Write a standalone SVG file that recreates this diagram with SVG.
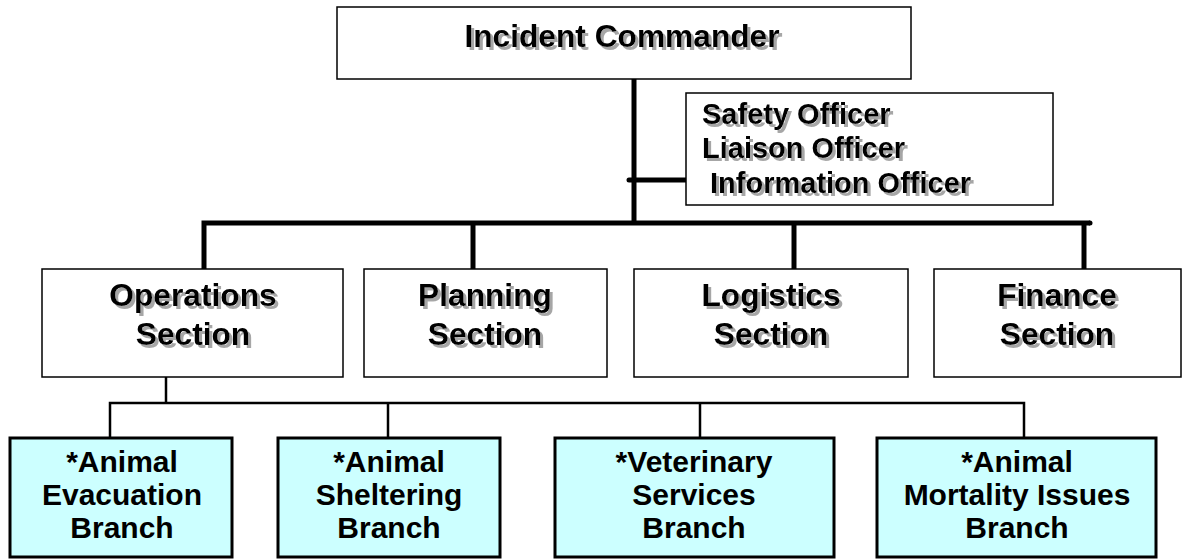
<svg xmlns="http://www.w3.org/2000/svg" width="1182" height="559" viewBox="0 0 1182 559">
<defs>
<filter id="shadow" x="-5%" y="-20%" width="115%" height="150%">
<feOffset in="SourceAlpha" dx="2.5" dy="2.5" result="off"/>
<feFlood flood-color="#a6a6a6"/>
<feComposite in2="off" operator="in" result="sh"/>
<feMerge><feMergeNode in="sh"/><feMergeNode in="SourceGraphic"/></feMerge>
</filter>
</defs>
<style>
.box{fill:#fff;stroke:#000;stroke-width:1.5}
.branch{fill:#ccffff;stroke:#000;stroke-width:3}
.t{font-family:"Liberation Sans",Arial,sans-serif;font-weight:bold;font-size:30px;fill:#000}
.big{font-size:31.7px}
.off{font-size:29px}
.ts{filter:url(#shadow)}
.mid{text-anchor:middle}
.thick{stroke:#000;stroke-width:5;fill:none}
.thin{stroke:#000;stroke-width:2.5;fill:none}
</style>
<rect width="1182" height="559" fill="#fff"/>
<g id="connectors">
<line class="thick" x1="634" y1="73" x2="634" y2="223"/>
<line class="thick" x1="629" y1="180" x2="686" y2="180" stroke-linecap="round"/>
<path class="thick" d="M204,270 V223 H1090" stroke-linejoin="miter"/>
<circle cx="1090" cy="223" r="2.5"/>
<line class="thick" x1="473" y1="223" x2="473" y2="270"/>
<line class="thick" x1="794" y1="223" x2="794" y2="270"/>
<line class="thick" x1="1084" y1="223" x2="1084" y2="270"/>
<line class="thin" x1="166" y1="368" x2="166" y2="403"/>
<path class="thin" d="M110,438 V403 H1024 V438"/>
<line class="thin" x1="388" y1="403" x2="388" y2="438"/>
<line class="thin" x1="700" y1="403" x2="700" y2="438"/>
</g>
<g id="incident-commander">
<rect class="box" x="337" y="7" width="574" height="72"/>
<text class="t big ts mid" x="622" y="47">Incident Commander</text>
</g>
<g id="officers">
<rect class="box" x="686" y="93" width="367" height="112"/>
<text class="t off ts" x="702" y="124">Safety Officer</text>
<text class="t off ts" x="702" y="158">Liaison Officer</text>
<text class="t off ts" x="702" y="193" xml:space="preserve"> Information Officer</text>
</g>
<g id="operations">
<rect class="box" x="42" y="269" width="301" height="108"/>
<text class="t big ts mid" x="193" y="306">Operations</text>
<text class="t big ts mid" x="193" y="345">Section</text>
</g>
<g id="planning">
<rect class="box" x="364" y="269" width="243" height="108"/>
<text class="t big ts mid" x="485" y="306">Planning</text>
<text class="t big ts mid" x="485" y="345">Section</text>
</g>
<g id="logistics">
<rect class="box" x="634" y="269" width="274" height="108"/>
<text class="t big ts mid" x="771" y="306">Logistics</text>
<text class="t big ts mid" x="771" y="345">Section</text>
</g>
<g id="finance">
<rect class="box" x="934" y="269" width="247" height="108"/>
<text class="t big ts mid" x="1057" y="306">Finance</text>
<text class="t big ts mid" x="1057" y="345">Section</text>
</g>
<g id="evacuation">
<rect class="branch" x="10" y="438" width="222" height="119"/>
<text class="t mid" x="122" y="472">*Animal</text>
<text class="t mid" x="122" y="505">Evacuation</text>
<text class="t mid" x="122" y="538">Branch</text>
</g>
<g id="sheltering">
<rect class="branch" x="278" y="438" width="222" height="119"/>
<text class="t mid" x="389" y="472">*Animal</text>
<text class="t mid" x="389" y="505">Sheltering</text>
<text class="t mid" x="389" y="538">Branch</text>
</g>
<g id="veterinary">
<rect class="branch" x="555" y="438" width="279" height="119"/>
<text class="t mid" x="694" y="472">*Veterinary</text>
<text class="t mid" x="694" y="505">Services</text>
<text class="t mid" x="694" y="538">Branch</text>
</g>
<g id="mortality">
<rect class="branch" x="877" y="438" width="279" height="119"/>
<text class="t mid" x="1017" y="472">*Animal</text>
<text class="t mid" x="1017" y="505">Mortality Issues</text>
<text class="t mid" x="1017" y="538">Branch</text>
</g>
</svg>
